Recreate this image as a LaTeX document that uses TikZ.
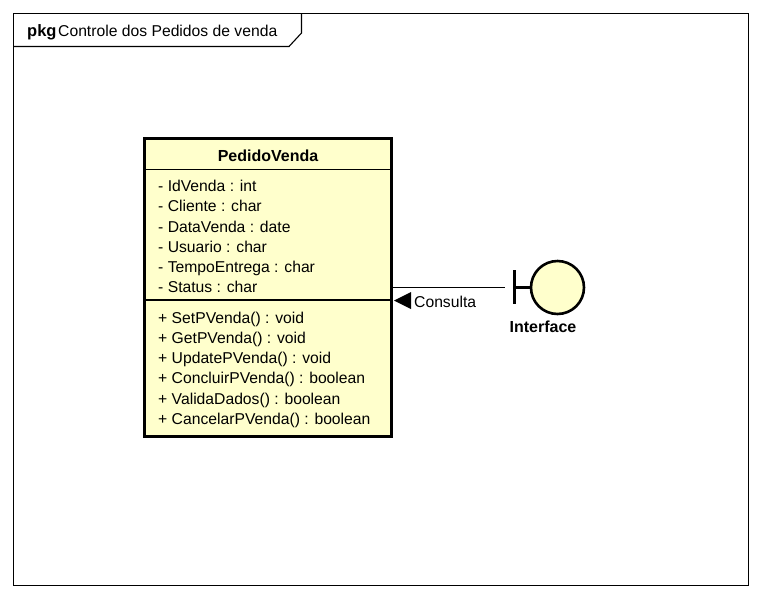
\documentclass[tikz,border=0pt]{standalone}
\usepackage{fontspec}
\setmainfont{Liberation Sans}
\definecolor{umlfill}{HTML}{FFFFCC}
\tikzset{
  x=1pt,y=-1pt,
  thinline/.style={draw=black,line width=1.1pt},
  member/.style={anchor=base west,inner sep=0pt,font=\fontsize{15.7}{17}\selectfont},
  heading/.style={inner sep=0pt,font=\fontsize{16}{18}\selectfont\bfseries},
  classbox/.style={draw=black,fill=umlfill,line width=3pt,rectangle,inner sep=0pt,minimum width=246.5pt,minimum height=298pt},
  boundarycircle/.style={circle,draw=black,fill=umlfill,line width=2.6pt,inner sep=0pt,minimum size=53pt},
  arrowmark/.style={fill=black,draw=none},
}
\begin{document}
\begin{tikzpicture}
\useasboundingbox (0,0) rectangle (761,598);
\fill[white] (0,0) rectangle (761,598);
% package frame
\draw[thinline] (13.5,13.5) rectangle (748.5,585.5);
\draw[thinline] (13.5,46.5) -- (289,46.5) -- (301.5,33) -- (301.5,13.5);
\node[anchor=base west,inner sep=0pt,font=\fontsize{16.5}{18}\selectfont\bfseries] (pkg) at (27,36.5) {pkg};
\node[member,anchor=base west] (pkgname) at (58,36.5) {Controle dos Pedidos de venda};
% class
\node[classbox] (cls) at (267.75,287) {};
\draw[thinline] (cls.west |- 0,169.5) -- (cls.east |- 0,169.5);
\draw[thinline] (cls.west |- 0,300) -- (cls.east |- 0,300);
\node[heading] (title) at (268,155.5) {PedidoVenda};
\node[member] (a1) at (158,191.5) {- IdVenda : int};
\node[member] (a2) at (158,211.5) {- Cliente : char};
\node[member] (a3) at (158,232) {- DataVenda : date};
\node[member] (a4) at (158,252) {- Usuario : char};
\node[member] (a5) at (158,272) {- TempoEntrega : char};
\node[member] (a6) at (158,292.5) {- Status : char};
\node[member] (m1) at (158,323) {+ SetPVenda() : void};
\node[member] (m2) at (158,343) {+ GetPVenda() : void};
\node[member] (m3) at (158,363.5) {+ UpdatePVenda() : void};
\node[member] (m4) at (158,383.5) {+ ConcluirPVenda() : boolean};
\node[member] (m5) at (158,404) {+ ValidaDados() : boolean};
\node[member] (m6) at (158,424) {+ CancelarPVenda() : boolean};
% boundary
\node[boundarycircle] (bnd) at (557.5,287.5) {};
\coordinate (bar) at (514.5,287.5);
\draw[line width=2.6pt] (514.5,270) -- (514.5,304);
\draw[line width=2.6pt] (bar) -- (bnd.west);
\node[heading] (iface) at (543,326.5) {Interface};
% association
\coordinate (assocend) at (505,287.5);
\draw[thinline] (cls.east |- assocend) -- (assocend);
\fill[arrowmark] (394,300.5) -- (411,292) -- (411,309) -- cycle;
\node[member] (lbl) at (414,307) {Consulta};
\end{tikzpicture}
\end{document}
